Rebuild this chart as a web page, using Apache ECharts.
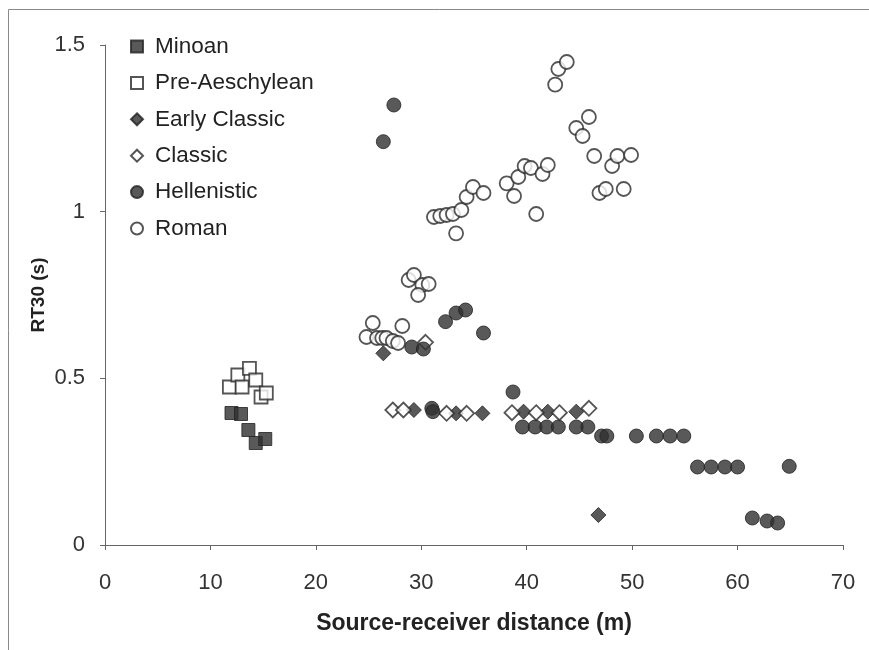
<!DOCTYPE html>
<html><head><meta charset="utf-8">
<script src="https://cdn.jsdelivr.net/npm/echarts@6/dist/echarts.min.js"></script>
<style>html,body{margin:0;padding:0;background:#fff;}#c{width:869px;height:650px;}</style>
</head><body><div id="c"></div>
<script>
const seriesNames = ["Minoan","Pre-Aeschylean","Early Classic","Classic","Hellenistic","Roman"];
const minoan = [[12.0,0.396],[12.9,0.393],[13.6,0.345],[14.3,0.306],[15.2,0.318]];
const preAeschylean = [[11.8,0.474],[12.6,0.51],[13.0,0.474],[13.7,0.53],[14.3,0.495],[14.8,0.444],[15.3,0.456]];
const earlyClassic = [[26.4,0.575],[29.3,0.405],[33.3,0.395],[35.8,0.395],[39.7,0.40],[42.0,0.40],[44.7,0.40],[46.8,0.09]];
const classic = [[27.3,0.405],[28.3,0.405],[30.4,0.608],[32.4,0.395],[34.3,0.395],[38.6,0.397],[40.9,0.397],[43.1,0.397],[45.9,0.41]];
const hellenistic = [[26.4,1.21],[27.4,1.32],[29.1,0.594],[30.2,0.588],[31.0,0.41],[31.1,0.40],[32.3,0.67],[33.3,0.696],[34.2,0.705],[35.9,0.636],[38.7,0.459],[39.6,0.354],[40.8,0.354],[41.9,0.354],[43.0,0.354],[44.7,0.354],[45.8,0.354],[47.1,0.327],[47.6,0.327],[50.4,0.327],[52.3,0.327],[53.6,0.327],[54.9,0.327],[56.2,0.234],[57.5,0.234],[58.8,0.234],[60.0,0.234],[64.9,0.236],[61.4,0.081],[62.8,0.072],[63.8,0.066]];
const roman = [[24.8,0.624],[25.4,0.666],[25.8,0.621],[26.3,0.621],[26.7,0.621],[27.3,0.612],[27.8,0.606],[28.2,0.657],[28.8,0.795],[29.3,0.81],[30.1,0.78],[30.7,0.783],[29.7,0.75],[31.2,0.984],[31.8,0.987],[32.4,0.99],[33.0,0.993],[33.3,0.935],[33.8,1.005],[34.3,1.044],[34.9,1.074],[35.9,1.056],[38.1,1.085],[38.8,1.047],[39.2,1.104],[39.8,1.137],[40.4,1.131],[40.9,0.993],[41.5,1.113],[42.0,1.14],[42.7,1.381],[43.0,1.428],[43.8,1.449],[44.7,1.251],[45.3,1.227],[45.9,1.284],[46.4,1.167],[46.9,1.056],[47.5,1.068],[48.1,1.137],[48.6,1.167],[49.2,1.068],[49.9,1.17]];
const xTicks = {min:0,max:70,interval:10};
const yTicks = {min:0,max:1.5,interval:0.5};

const dark = '#303030';
const filled = {color: dark, borderColor: '#222', borderWidth: 1};
const open = {color: '#ffffff', borderColor: '#2a2a2a', borderWidth: 1.8};
const defs = [
  {name: seriesNames[0], data: minoan, symbol: 'rect', size: 13, style: filled},
  {name: seriesNames[1], data: preAeschylean, symbol: 'rect', size: 13, style: open},
  {name: seriesNames[2], data: earlyClassic, symbol: 'diamond', size: 15, style: filled},
  {name: seriesNames[3], data: classic, symbol: 'diamond', size: 15, style: open},
  {name: seriesNames[4], data: hellenistic, symbol: 'circle', size: 14, style: filled},
  {name: seriesNames[5], data: roman, symbol: 'circle', size: 14, style: open}
];
const font = 'Liberation Sans, Arial, sans-serif';
const chart = echarts.init(document.getElementById('c'), null, {renderer:'canvas'});
chart.setOption({
  backgroundColor: '#fff',
  animation: false,
  graphic: [{type:'rect', shape:{x:8.5,y:9.5,width:880,height:700}, style:{fill:'none', stroke:'#8a8a8a', lineWidth:1}, silent:true}],
  grid: {left:105, right:26, top:45, bottom:105},
  legend: {
    orient: 'vertical', left: 125, top: 30, itemGap: 13.4,
    itemWidth: 12, itemHeight: 12,
    textStyle: {fontFamily: font, fontSize: 22.5, lineHeight: 22, color: '#222', padding: [0,0,0,7]},
    data: defs.map(d => ({name: d.name, icon: d.symbol}))
  },
  xAxis: {
    type: 'value', min: xTicks.min, max: xTicks.max, interval: xTicks.interval,
    name: 'Source-receiver distance (m)', nameLocation: 'middle', nameGap: 67, nameMoveOverlap: false,
    nameTextStyle: {fontFamily: font, fontSize: 23, fontWeight: 'bold', color: '#222'},
    axisLine: {show: true, lineStyle: {color: '#666', width: 1}},
    axisTick: {show: true, inside: false, length: 5, lineStyle: {color: '#666'}},
    axisLabel: {fontFamily: font, fontSize: 22, color: '#333', margin: 27},
    splitLine: {show: false}
  },
  yAxis: {
    type: 'value', min: yTicks.min, max: yTicks.max, interval: yTicks.interval,
    name: 'RT30 (s)', nameLocation: 'middle', nameGap: 57, nameRotate: 90, nameMoveOverlap: false,
    nameTextStyle: {fontFamily: font, fontSize: 19, fontWeight: 'bold', color: '#222'},
    axisLine: {show: true, lineStyle: {color: '#666', width: 1}},
    axisTick: {show: true, inside: false, length: 5, lineStyle: {color: '#666'}},
    axisLabel: {fontFamily: font, fontSize: 22, color: '#333', margin: 20},
    splitLine: {show: false}
  },
  series: defs.map(d => ({
    name: d.name, type: 'scatter', data: d.data, symbol: d.symbol, symbolSize: d.size,
    itemStyle: d.style
  }))
});
</script></body></html>
